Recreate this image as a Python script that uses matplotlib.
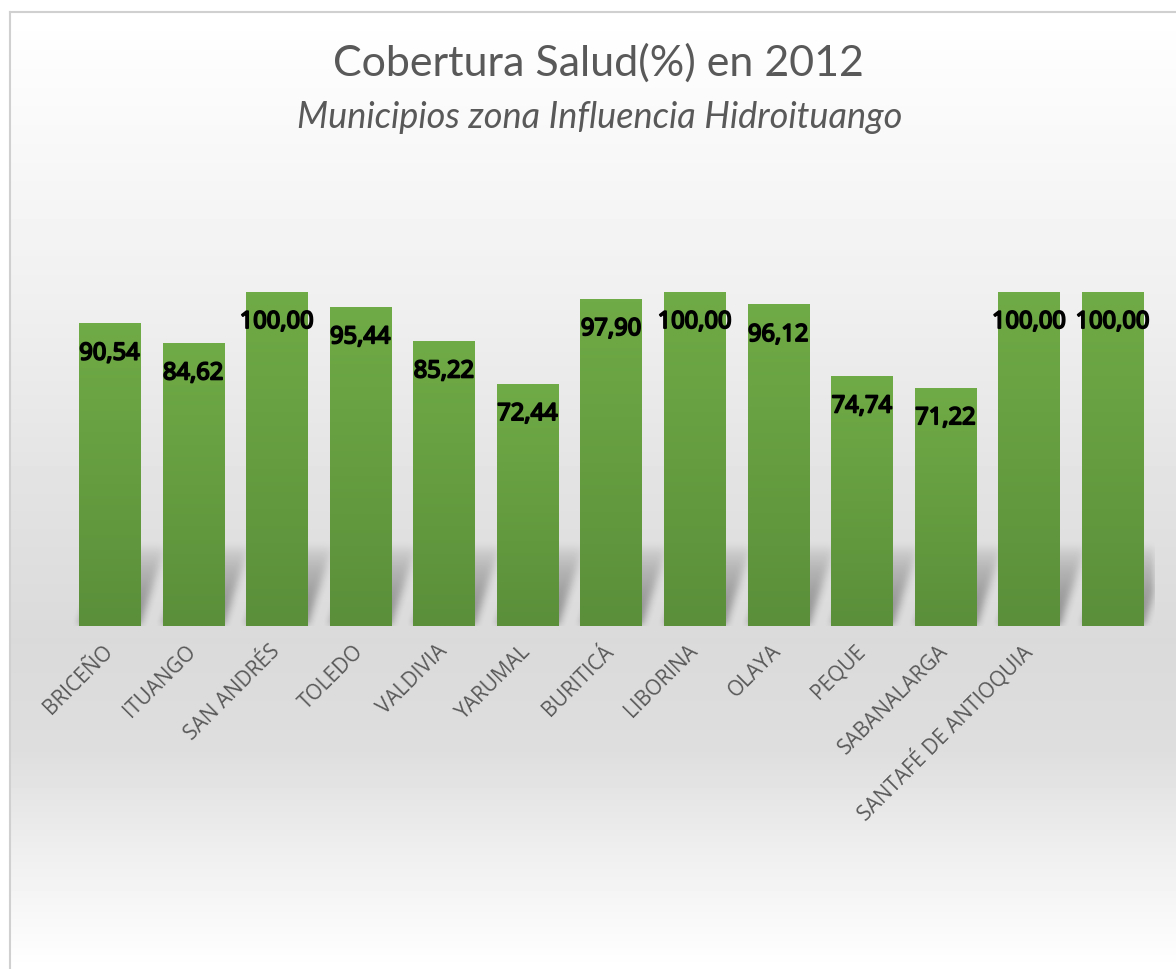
import numpy as np
import matplotlib.pyplot as plt
import matplotlib.patheffects as pe
from matplotlib.colors import LinearSegmentedColormap

municipios = ["BRICEÑO", "ITUANGO", "SAN ANDRÉS", "TOLEDO", "VALDIVIA", "YARUMAL",
              "BURITICÁ", "LIBORINA", "OLAYA", "PEQUE", "SABANALARGA",
              "SANTAFÉ DE ANTIOQUIA", ""]
cobertura = [90.54, 84.62, 100.00, 95.44, 85.22, 72.44, 97.90, 100.00,
             96.12, 74.74, 71.22, 100.00, 100.00]

titulo = "Cobertura Salud(%) en 2012"
subtitulo = "Municipios zona Influencia Hidroituango"

W, H = 1176, 969
fig = plt.figure(figsize=(W / 100, H / 100), dpi=100)
fig.patch.set_facecolor("white")

# fondo con degradado del marco del grafico
bg = fig.add_axes([10 / W, 0, 1 - 10 / W, 1 - 12 / H])
rows = np.arange(957)
levels = np.interp(rows, [0, 288, 488, 628, 738, 838, 957],
                   [1.0, 0.94, 0.885, 0.855, 0.87, 0.935, 1.0])
img = np.repeat(levels[:, None], 8, axis=1)
bg.imshow(img, cmap="gray", vmin=0, vmax=1, aspect="auto",
          extent=[0, 1, 0, 1], origin="upper", interpolation="nearest")
bg.plot([0, 0], [0, 1], color="#d0d0d0", lw=1.5, clip_on=False)
bg.plot([0, 1], [1, 1], color="#d0d0d0", lw=1.5, clip_on=False)
bg.set_xlim(0, 1)
bg.set_ylim(0, 1)
bg.axis("off")

# area de barras
left_px, right_px = 67.7, 1154.3
base_px, top_px = 626, 292
ax = fig.add_axes([left_px / W, (H - base_px) / H,
                   (right_px - left_px) / W, (base_px - top_px) / H])
ax.patch.set_alpha(0)

x = np.arange(len(cobertura))
w = 0.73

# sombra en perspectiva detras de las barras
ppu_x = (right_px - left_px) / 13.0
ppu_y = (base_px - top_px) / 100.0
nx, ny = int(right_px - left_px), 110
hs, dx = 80, 26
shadow = np.zeros((ny, nx))
for xi in x:
    c = (xi + 0.5) * ppu_x
    for r in range(hs):
        s = dx * r / hs
        a = int(c - w * ppu_x / 2 + s)
        b = int(c + w * ppu_x / 2 + s)
        shadow[r, max(a, 0):min(b, nx)] = np.maximum(
            shadow[r, max(a, 0):min(b, nx)], (1 - r / hs) ** 0.6)
k = np.ones(9) / 9
for _ in range(2):
    shadow = np.apply_along_axis(lambda v: np.convolve(v, k, mode="same"), 1, shadow)
    shadow = np.apply_along_axis(lambda v: np.convolve(v, k, mode="same"), 0, shadow)
rgba = np.zeros((ny, nx, 4))
rgba[..., 3] = 0.38 * shadow
ax.imshow(rgba, extent=[-0.5, 12.5, 0, ny / ppu_y], origin="lower",
          aspect="auto", zorder=2, interpolation="bilinear")

bar_cmap = LinearSegmentedColormap.from_list("verde", ["#5b8f3a", "#6fab46"])
grad = np.linspace(0, 1, 100)[:, None]
ax.bar(x, cobertura, width=w, color="#63993f", zorder=3)
negrita = [pe.withStroke(linewidth=1.3, foreground="black")]
for xi, v in zip(x, cobertura):
    ax.imshow(grad, extent=[xi - w / 2, xi + w / 2, 0, v], origin="lower",
              aspect="auto", cmap=bar_cmap, zorder=3.5)
    ax.text(xi, v - 9, f"{v:.2f}".replace(".", ","), ha="center", va="center",
            fontsize=17, fontweight="bold", family="Noto Sans", color="black",
            zorder=5, path_effects=negrita)

ax.set_xlim(-0.5, 12.5)
ax.set_ylim(0, 100)
ax.set_xticks(x)
ax.set_xticklabels(municipios, rotation=45, ha="right", va="center",
                   rotation_mode="anchor", fontsize=15, color="#595959",
                   family="Open Sans")
ax.tick_params(axis="x", length=0, pad=16)
ax.set_yticks([])
for sp in ax.spines.values():
    sp.set_visible(False)

fig.text(598 / W, 1 - 63 / H, titulo, ha="center", va="center",
         fontsize=31, color="#595959", family="Lato")
fig.text(600 / W, 1 - 117 / H, subtitulo, ha="center", va="center",
         fontsize=26, style="italic", color="#595959", family="Lato")

fig.savefig("out.png", dpi=100)
